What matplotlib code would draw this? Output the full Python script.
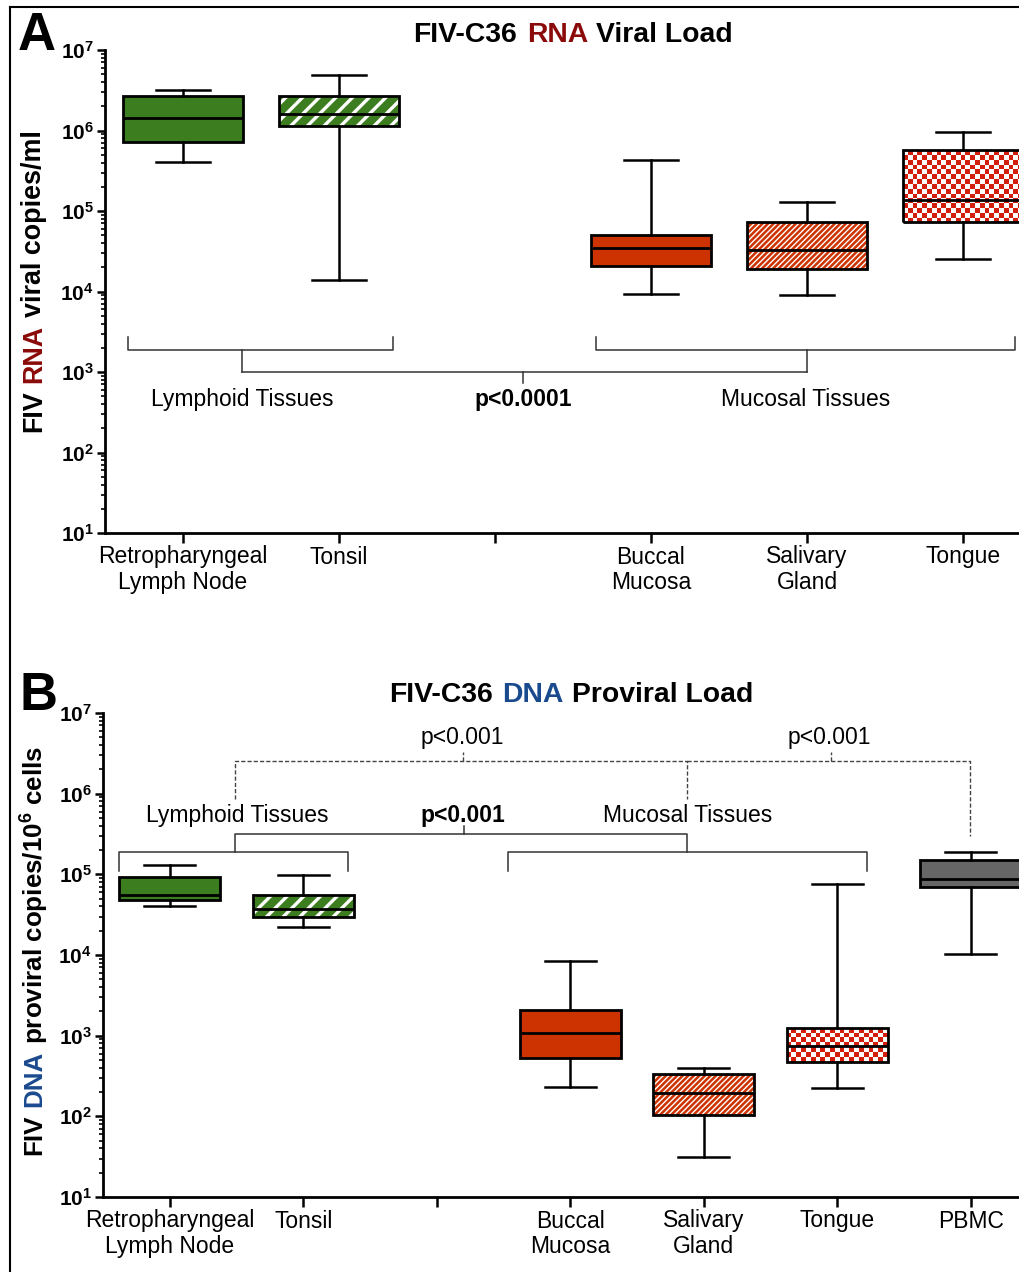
import numpy as np
import matplotlib.pyplot as plt
import matplotlib.ticker as mticker
from matplotlib.patches import PathPatch
from matplotlib.colors import ListedColormap
from matplotlib.lines import Line2D

plt.rcParams['font.family'] = ['Liberation Sans', 'DejaVu Sans']
plt.rcParams['mathtext.fontset'] = 'custom'
plt.rcParams['mathtext.rm'] = 'Liberation Sans'
plt.rcParams['mathtext.bf'] = 'Liberation Sans:bold'

# Panel A: FIV RNA viral load (copies/ml)
rna_labels = ['Retropharyngeal\nLymph Node', 'Tonsil', '', 'Buccal\nMucosa', 'Salivary\nGland', 'Tongue']
rna_pos = [0, 1, 3, 4, 5]
rna_whislo = [4.1e5, 1.4e4, 9.3e3, 9.1e3, 2.55e4]
rna_q1 = [7.3e5, 1.15e6, 2.1e4, 1.9e4, 7.2e4]
rna_med = [1.44e6, 1.62e6, 3.5e4, 3.3e4, 1.36e5]
rna_q3 = [2.68e6, 2.68e6, 5.1e4, 7.2e4, 5.7e5]
rna_whishi = [3.2e6, 4.9e6, 4.3e5, 1.28e5, 9.6e5]
rna_style = ['green', 'green_hatch', 'red', 'red_hatch', 'red_check']

# Panel B: FIV DNA proviral load (copies/10^6 cells)
dna_labels = ['Retropharyngeal\nLymph Node', 'Tonsil', '', 'Buccal\nMucosa', 'Salivary\nGland', 'Tongue', 'PBMC']
dna_pos = [0, 1, 3, 4, 5, 6]
dna_whislo = [4.0e4, 2.2e4, 228, 31, 223, 1.03e4]
dna_q1 = [4.8e4, 2.95e4, 530, 103, 470, 7.0e4]
dna_med = [5.5e4, 3.75e4, 1.09e3, 192, 735, 8.8e4]
dna_q3 = [9.2e4, 5.5e4, 2.07e3, 336, 1.26e3, 1.5e5]
dna_whishi = [1.3e5, 9.8e4, 8.45e3, 400, 7.6e4, 1.9e5]
dna_style = ['green', 'green_hatch', 'red', 'red_hatch', 'red_check', 'gray']

GREEN = '#3b7d1f'
RED = '#cc3300'
CHECK_RED = '#d21e0a'
GRAY = '#666666'
RNA_COLOR = '#8b0a0a'
DNA_COLOR = '#1a4a8e'

styles = {
    'green': dict(fc=GREEN, hatch=None),
    'green_hatch': dict(fc=GREEN, hatch='//', hlw=2.4),
    'red': dict(fc=RED, hatch=None),
    'red_hatch': dict(fc=RED, hatch='//////', hlw=1.0),
    'red_check': dict(fc='none', hatch=None),
    'gray': dict(fc=GRAY, hatch=None),
}

fig = plt.figure(figsize=(10.2, 12.72), dpi=100)
W, H = 1020, 1272


def px_axes(left, top, bottom, unit, xmax):
    width = (xmax + 0.5) * unit
    return fig.add_axes([left / W, 1 - bottom / H, width / W, (bottom - top) / H])


def draw_boxes(ax, pos, whislo, q1, med, q3, whishi, style, width, capw):
    for p, lo, a, m, b, hi, st in zip(pos, whislo, q1, med, q3, whishi, style):
        s = styles[st]
        stats = [dict(med=m, q1=a, q3=b, whislo=lo, whishi=hi, fliers=[])]
        with plt.rc_context({'hatch.linewidth': s.get('hlw', 1.0), 'hatch.color': 'white'}):
            bp = ax.bxp(stats, positions=[p], widths=width, capwidths=capw,
                        patch_artist=True, showfliers=False, manage_ticks=False,
                        boxprops=dict(facecolor=s['fc'], edgecolor='black', linewidth=2.0),
                        medianprops=dict(color='black', linewidth=2.0, zorder=4),
                        whiskerprops=dict(color='black', linewidth=1.8),
                        capprops=dict(color='black', linewidth=1.8))
            box = bp['boxes'][0]
            if s['hatch']:
                box.set_edgecolor('white')
                box.set_hatch(s['hatch'])
                box.set_linewidth(0)
                ax.add_patch(PathPatch(box.get_path(), facecolor='none', edgecolor='black',
                                       linewidth=2.0, zorder=3))
        if st == 'red_check':
            x0, y0 = ax.transData.transform((p - width / 2, a))
            x1, y1 = ax.transData.transform((p + width / 2, b))
            ncol = max(1, int(round(abs(x1 - x0) / 4.8)))
            nrow = max(1, int(round(abs(y1 - y0) / 4.8)))
            xe = np.linspace(p - width / 2, p + width / 2, ncol + 1)
            ye = np.geomspace(a, b, nrow + 1)
            cells = (np.add.outer(np.arange(nrow), np.arange(ncol)) % 2).astype(float)
            ax.pcolormesh(xe, ye, cells, cmap=ListedColormap(['white', CHECK_RED]),
                          shading='flat', antialiased=False, zorder=1.9)


def style_axis(ax, labels, xmax):
    ax.set_yscale('log')
    ax.set_ylim(10, 1e7)
    ax.set_xlim(-0.5, xmax)
    ax.set_xticks(range(len(labels)))
    ax.set_xticklabels(labels, fontsize=16.5, linespacing=1.12)
    ax.yaxis.set_major_locator(mticker.LogLocator(base=10, numticks=10))
    ax.yaxis.set_minor_locator(mticker.LogLocator(base=10, subs=np.arange(2, 10), numticks=20))
    ax.yaxis.set_major_formatter(mticker.FuncFormatter(
        lambda v, _: r'$\mathbf{10^{%d}}$' % int(round(np.log10(v)))))
    ax.yaxis.set_minor_formatter(mticker.NullFormatter())
    for t in ax.get_yticklabels():
        t.set_fontsize(15)
    ax.tick_params(axis='y', which='major', length=6, width=1.8, pad=2)
    ax.tick_params(axis='y', which='minor', length=3, width=1.2)
    ax.tick_params(axis='x', which='major', length=7, width=1.8, pad=2)
    for side in ['top', 'right']:
        ax.spines[side].set_visible(False)
    for side in ['left', 'bottom']:
        ax.spines[side].set_linewidth(2.0)
    ax.patch.set_alpha(0)


def bracket(ax, x0, x1, y, ytip, **kw):
    ax.plot([x0, x0, x1, x1], [ytip, y, y, ytip], clip_on=False, **kw)


def seg(ax, xs, ys, **kw):
    ax.plot(xs, ys, clip_on=False, **kw)


# ---------------- Panel A ----------------
axA = px_axes(105, 50, 533, 156, 5.6)
style_axis(axA, rna_labels, 5.6)
draw_boxes(axA, rna_pos, rna_whislo, rna_q1, rna_med, rna_q3, rna_whishi, rna_style, 0.77, 0.35)

lk = dict(color='#333333', linewidth=1.1)
bracket(axA, -0.353, 1.346, 1.87e3, 2.72e3, **lk)
bracket(axA, 2.647, 5.333, 1.87e3, 2.72e3, **lk)
seg(axA, [0.378, 0.378], [1.87e3, 1.0e3], **lk)
seg(axA, [4.0, 4.0], [1.87e3, 1.0e3], **lk)
seg(axA, [0.378, 4.0], [1.0e3, 1.0e3], **lk)
seg(axA, [2.18, 2.18], [1.0e3, 7.3e2], **lk)
axA.text(0.378, 449, 'Lymphoid Tissues', ha='center', va='center', fontsize=16.5)
axA.text(2.18, 449, 'p<0.0001', ha='center', va='center', fontsize=16.5, fontweight='bold')
axA.text(3.99, 449, 'Mucosal Tissues', ha='center', va='center', fontsize=16.5)

# ---------------- Panel B ----------------
axB = px_axes(103, 713, 1197, 133.5, 6.6)
style_axis(axB, dna_labels, 6.6)
draw_boxes(axB, dna_pos, dna_whislo, dna_q1, dna_med, dna_q3, dna_whishi, dna_style, 0.76, 0.38)

dk = dict(color='#444444', linewidth=1.0, linestyle=(0, (3, 1.5)))
seg(axB, [0.490, 0.490, 3.876, 3.876], [8.6e5, 2.54e6, 2.54e6, 8.6e5], **dk)
seg(axB, [3.876, 5.994, 5.994], [2.54e6, 2.54e6, 2.99e5], **dk)
seg(axB, [2.196, 2.196], [2.54e6, 3.29e6], **dk)
seg(axB, [4.951, 4.951], [2.54e6, 3.29e6], **dk)
axB.text(2.19, 4.9e6, 'p<0.001', ha='center', va='center', fontsize=16.5)
axB.text(4.94, 4.9e6, 'p<0.001', ha='center', va='center', fontsize=16.5)

bracket(axB, -0.381, 1.335, 1.9e5, 1.1e5, **lk)
bracket(axB, 2.533, 5.222, 1.9e5, 1.1e5, **lk)
seg(axB, [0.490, 0.490, 3.876, 3.876], [1.9e5, 3.16e5, 3.16e5, 1.9e5], **lk)
seg(axB, [2.204, 2.204], [3.16e5, 3.98e5], **lk)
axB.text(0.505, 5.3e5, 'Lymphoid Tissues', ha='center', va='center', fontsize=16.5)
axB.text(2.196, 5.3e5, 'p<0.001', ha='center', va='center', fontsize=16.5, fontweight='bold')
axB.text(3.876, 5.3e5, 'Mucosal Tissues', ha='center', va='center', fontsize=16.5)


# ---------------- titles, y labels, panel letters ----------------
def title_pieces(pieces, x_px, y_px, size):
    for (txt, col), x in zip(pieces, x_px):
        fig.text(x / W, 1 - y_px / H, txt, color=col, fontsize=size, fontweight='bold',
                 ha='left', va='baseline')


title_pieces([('FIV-C36', 'black'), ('RNA', RNA_COLOR), ('Viral Load', 'black')],
             [413, 527, 596], 42, 20.4)
title_pieces([('FIV-C36', 'black'), ('DNA', DNA_COLOR), ('Proviral Load', 'black')],
             [389, 502, 572], 702, 20.4)


def ylabel_pieces(ax, pieces, x_px, y_bottom_px, size):
    prev = fig.text(x_px / W, 1 - y_bottom_px / H, pieces[0][0], color=pieces[0][1],
                    fontsize=size, fontweight='bold', rotation=90, ha='center', va='bottom')
    for txt, col in pieces[1:]:
        prev = ax.annotate(txt, xy=(0.5, 1), xycoords=prev, xytext=(0, size * 0.278),
                           textcoords='offset points', color=col, fontsize=size,
                           fontweight='bold', rotation=90, ha='center', va='bottom',
                           annotation_clip=False)


ylabel_pieces(axA, [('FIV', 'black'), ('RNA', RNA_COLOR), ('viral copies/ml', 'black')],
              34, 432, 19.4)
ylabel_pieces(axB, [('FIV', 'black'), ('DNA', DNA_COLOR),
                    (r'proviral copies/10$^{\mathbf{6}}$ cells', 'black')], 34, 1155, 18.7)

fig.text(18 / W, 1 - 50 / H, 'A', fontsize=38, fontweight='bold', ha='left', va='baseline')
fig.text(20 / W, 1 - 710 / H, 'B', fontsize=38, fontweight='bold', ha='left', va='baseline')

# outer frame (left and top edges visible in the source image)
fig.add_artist(Line2D([10 / W, 10 / W], [0, 1 - 7 / H], transform=fig.transFigure,
                      color='black', linewidth=1.5))
fig.add_artist(Line2D([10 / W, 1], [1 - 7 / H, 1 - 7 / H], transform=fig.transFigure,
                      color='black', linewidth=1.5))

fig.savefig('out.png', dpi=100)
